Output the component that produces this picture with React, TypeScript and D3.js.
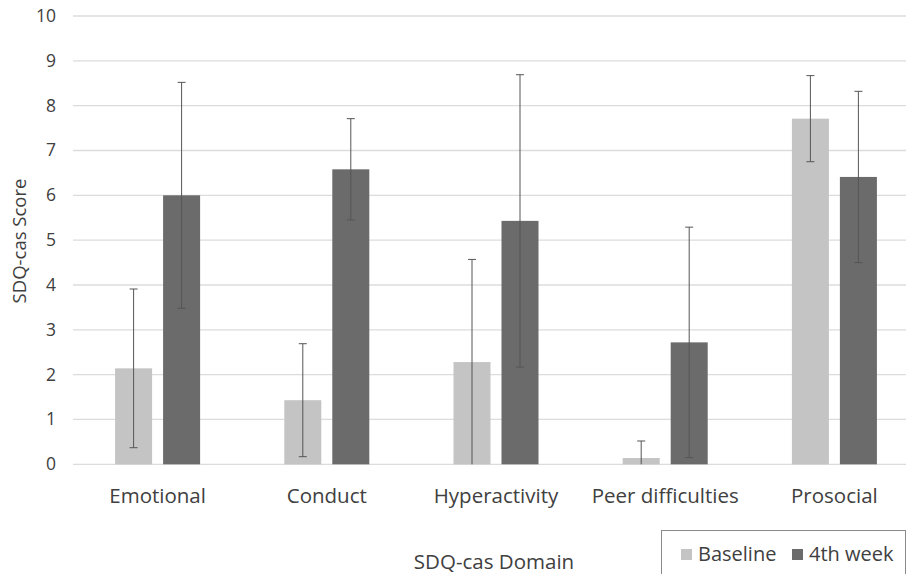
import { useRef, useEffect } from "react";
import * as d3 from "d3";

const domains = ["Emotional", "Conduct", "Hyperactivity", "Peer difficulties", "Prosocial"];
const seriesNames = ["Baseline", "4th week"];
const baselineMean = [2.14, 1.43, 2.28, 0.14, 7.71];
const baselineSd = [1.77, 1.26, 2.29, 0.38, 0.96];
const week4Mean = [6.0, 6.58, 5.43, 2.72, 6.41];
const week4Sd = [2.52, 1.13, 3.26, 2.57, 1.91];
const yTicks = [0, 1, 2, 3, 4, 5, 6, 7, 8, 9, 10];

const colors = ["#c4c4c4", "#6b6b6b"];
const font = "'Open Sans', 'Noto Sans', sans-serif";

const ChartSvg = () => {
    const ref = useRef<HTMLDivElement>(null);

    useEffect(() => {
        const width = 908;
        const height = 574;
        const left = 73;
        const right = 919;
        const top = 16;
        const bottom = 464.3;

        const svg = d3.create("svg")
            .attr("width", width)
            .attr("height", height)
            .style("display", "block")
            .style("font-family", font);

        svg.append("rect").attr("width", width).attr("height", height).attr("fill", "#fff");

        const y = d3.scaleLinear().domain([0, 10]).range([bottom, top]);
        const x0 = d3.scaleBand().domain(domains).range([left, right]).paddingInner(0).paddingOuter(0);
        const x1 = d3.scaleBand().domain(seriesNames).range([0, x0.bandwidth()]).paddingInner(0.229).paddingOuter(0.877);

        // grid
        svg.append("g")
            .selectAll("line")
            .data(yTicks)
            .join("line")
            .attr("x1", left)
            .attr("x2", 906)
            .attr("y1", d => y(d))
            .attr("y2", d => y(d))
            .attr("stroke", "#dcdcdc")
            .attr("stroke-width", 1.3);

        svg.append("g")
            .selectAll("text")
            .data(yTicks)
            .join("text")
            .attr("x", 56)
            .attr("y", d => y(d) + 6)
            .attr("text-anchor", "end")
            .attr("font-size", 17.5)
            .attr("fill", "#404040")
            .text(d => d);

        const rows = domains.map((d, i) => ({
            domain: d,
            values: [
                { s: seriesNames[0], m: baselineMean[i], sd: baselineSd[i] },
                { s: seriesNames[1], m: week4Mean[i], sd: week4Sd[i] },
            ],
        }));

        const groups = svg.append("g")
            .selectAll("g")
            .data(rows)
            .join("g")
            .attr("transform", d => `translate(${x0(d.domain)},0)`);

        groups.selectAll("rect")
            .data(d => d.values)
            .join("rect")
            .attr("x", d => x1(d.s)!)
            .attr("width", x1.bandwidth())
            .attr("y", d => y(d.m))
            .attr("height", d => y(0) - y(d.m))
            .attr("fill", (d, i) => colors[i]);

        // error bars
        const err = groups.selectAll("g.err")
            .data(d => d.values)
            .join("g")
            .attr("class", "err")
            .attr("transform", d => `translate(${x1(d.s)! + x1.bandwidth() / 2},0)`);

        err.append("line")
            .attr("y1", d => y(Math.max(0, d.m - d.sd)))
            .attr("y2", d => y(d.m + d.sd))
            .attr("stroke", "#555")
            .attr("stroke-width", 1);
        err.append("line")
            .attr("x1", -4).attr("x2", 4)
            .attr("y1", d => y(d.m + d.sd))
            .attr("y2", d => y(d.m + d.sd))
            .attr("stroke", "#555");
        err.filter(d => d.m - d.sd > 0).append("line")
            .attr("x1", -4).attr("x2", 4)
            .attr("y1", d => y(d.m - d.sd))
            .attr("y2", d => y(d.m - d.sd))
            .attr("stroke", "#555");

        // category labels
        svg.append("g")
            .selectAll("text")
            .data(domains)
            .join("text")
            .attr("x", d => x0(d)! + x0.bandwidth() / 2)
            .attr("y", 503)
            .attr("text-anchor", "middle")
            .attr("font-size", 20.5)
            .attr("fill", "#404040")
            .text(d => d);

        svg.append("text")
            .attr("transform", "translate(26,241) rotate(-90)")
            .attr("text-anchor", "middle")
            .attr("font-size", 18.5)
            .attr("fill", "#404040")
            .text("SDQ-cas Score");

        svg.append("text")
            .attr("x", 494)
            .attr("y", 569)
            .attr("text-anchor", "middle")
            .attr("font-size", 20.5)
            .attr("fill", "#404040")
            .text("SDQ-cas Domain");

        // legend
        const legend = svg.append("g");
        legend.append("rect")
            .attr("x", 661.5).attr("y", 530.5)
            .attr("width", 244).attr("height", 60)
            .attr("fill", "#fff")
            .attr("stroke", "#8a8a8a");
        const legendX = [681, 792];
        const items = legend.selectAll("g.item")
            .data(seriesNames)
            .join("g")
            .attr("class", "item")
            .attr("transform", (d, i) => `translate(${legendX[i]},0)`);
        items.append("rect")
            .attr("y", 549).attr("width", 11).attr("height", 11)
            .attr("fill", (d, i) => colors[i]);
        items.append("text")
            .attr("x", 17).attr("y", 561)
            .attr("font-size", 20)
            .attr("fill", "#404040")
            .text(d => d);

        ref.current!.appendChild(svg.node()!);
        return () => { svg.node()!.remove(); };
    }, []);

    return <div ref={ref}></div>;
};

export default function App() {
    return (
        <div style={{ position: "absolute", left: 0, top: 0 }}>
            <ChartSvg />
        </div>
    );
}
